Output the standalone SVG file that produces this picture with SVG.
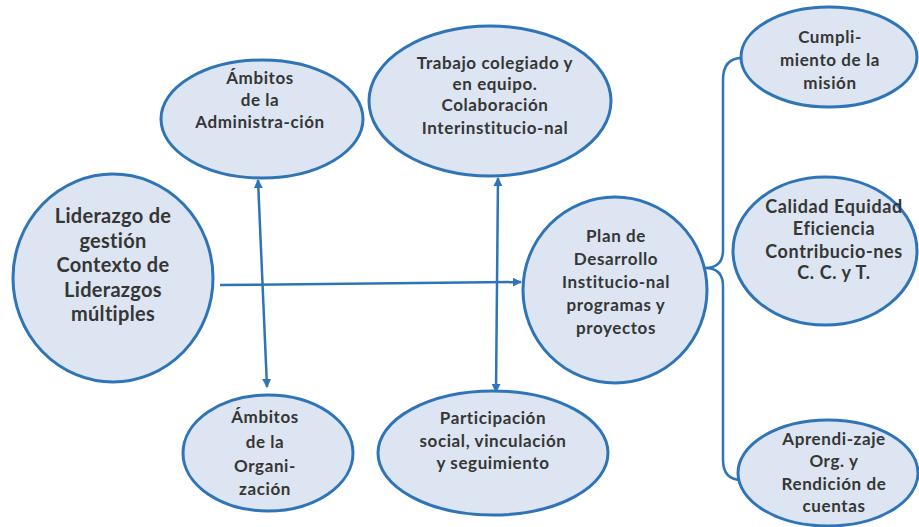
<svg xmlns="http://www.w3.org/2000/svg" width="919" height="527" viewBox="0 0 919 527">
<style>
.n{fill:#dce5f1;stroke:#2f74b6;stroke-width:3}
.t{font-family:Lato,"Liberation Sans",sans-serif;font-weight:bold;font-size:17px;letter-spacing:0.6px;fill:#363636;text-anchor:middle}
.big{font-size:20px;letter-spacing:0.3px}
.md{font-size:18px;letter-spacing:0.6px}
.c{stroke:#2f74b6;stroke-width:2.5;fill:none}
</style>
<defs>
<marker id="ah" viewBox="0 0 10 10" refX="9" refY="5" markerWidth="3.6" markerHeight="3.6" orient="auto-start-reverse" markerUnits="strokeWidth">
<path d="M0,0 L10,5 L0,10 z" fill="#2f74b6"/>
</marker>
</defs>
<rect width="919" height="527" fill="#fff"/>
<g id="connectors">
<path class="c" d="M220,285 L521,282" marker-end="url(#ah)"/>
<path class="c" d="M258,180 L267,387" marker-start="url(#ah)" marker-end="url(#ah)"/>
<path class="c" d="M498,178 L496,392" marker-start="url(#ah)" marker-end="url(#ah)"/>
<path class="c" d="M742,58 Q723,58 723,80 L723,250 Q723,268 705,268 Q723,268 723,286 L723,460 Q723,480 742,480"/>
</g>
<g id="liderazgo">
<ellipse class="n" cx="113" cy="278" rx="100" ry="104"/>
<text class="t big"><tspan x="113" y="223">Liderazgo de</tspan><tspan x="113" y="248">gestión</tspan><tspan x="113" y="272">Contexto de</tspan><tspan x="113" y="297">Liderazgos</tspan><tspan x="113" y="321">múltiples</tspan></text>
</g>
<g id="administracion">
<ellipse class="n" cx="262" cy="119" rx="101" ry="59"/>
<text class="t"><tspan x="260" y="84">Ámbitos</tspan><tspan x="260" y="106">de la</tspan><tspan x="260" y="128">Administra-ción</tspan></text>
</g>
<g id="trabajo">
<ellipse class="n" cx="490" cy="101" rx="121" ry="75"/>
<text class="t"><tspan x="495" y="69">Trabajo colegiado y</tspan><tspan x="495" y="90">en equipo.</tspan><tspan x="495" y="111">Colaboración</tspan><tspan x="495" y="134">Interinstitucio-nal</tspan></text>
</g>
<g id="plan">
<ellipse class="n" cx="615" cy="290" rx="92" ry="93"/>
<text class="t"><tspan x="616" y="242">Plan de</tspan><tspan x="616" y="265">Desarrollo</tspan><tspan x="616" y="288">Institucio-nal</tspan><tspan x="616" y="311">programas y</tspan><tspan x="616" y="334">proyectos</tspan></text>
</g>
<g id="organizacion">
<ellipse class="n" cx="268" cy="453" rx="85" ry="58"/>
<text class="t"><tspan x="265" y="423">Ámbitos</tspan><tspan x="265" y="448">de la</tspan><tspan x="265" y="472">Organi-</tspan><tspan x="265" y="495">zación</tspan></text>
</g>
<g id="participacion">
<ellipse class="n" cx="493" cy="453" rx="115" ry="62"/>
<text class="t"><tspan x="493" y="424">Participación</tspan><tspan x="493" y="447">social, vinculación</tspan><tspan x="493" y="469">y seguimiento</tspan></text>
</g>
<g id="cumplimiento">
<ellipse class="n" cx="829" cy="57" rx="88" ry="50"/>
<text class="t"><tspan x="830" y="43">Cumpli-</tspan><tspan x="830" y="66">miento de la</tspan><tspan x="830" y="89">misión</tspan></text>
</g>
<g id="calidad">
<ellipse class="n" cx="825" cy="251" rx="92" ry="74"/>
<text class="t md"><tspan x="834" y="213">Calidad Equidad</tspan><tspan x="834" y="235">Eficiencia</tspan><tspan x="834" y="258">Contribucio-nes</tspan><tspan x="834" y="279">C. C. y T.</tspan></text>
</g>
<g id="aprendizaje">
<ellipse class="n" cx="828" cy="473" rx="90" ry="53"/>
<text class="t"><tspan x="834" y="445">Aprendi-zaje</tspan><tspan x="834" y="467">Org. y</tspan><tspan x="834" y="490">Rendición de</tspan><tspan x="834" y="512">cuentas</tspan></text>
</g>
</svg>
